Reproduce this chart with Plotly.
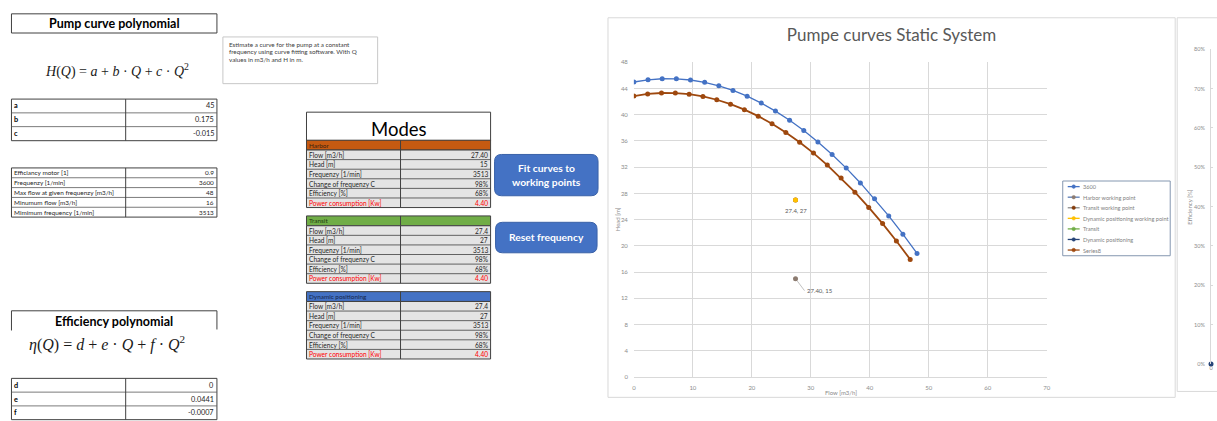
import plotly.graph_objects as go

# ---------------- data ----------------
# pump curve at 3600 1/min
flow_3600 = [0.0, 2.4, 4.8, 7.2, 9.6, 12.0, 14.4, 16.8, 19.2, 21.6, 24.0,
             26.4, 28.8, 31.2, 33.6, 36.0, 38.4, 40.8, 43.2, 45.6, 48.0]
head_3600 = [45.00, 45.33, 45.49, 45.48, 45.30, 44.94, 44.41, 43.71, 42.83, 41.78, 40.56,
             39.17, 37.60, 35.86, 33.95, 31.86, 29.60, 27.17, 24.57, 21.79, 18.84]

# curve at the reduced (minimum) frequency
flow_s8 = [0.0, 2.34, 4.68, 7.03, 9.37, 11.71, 14.05, 16.39, 18.74, 21.08, 23.42,
           25.76, 28.10, 30.45, 32.79, 35.13, 37.47, 39.81, 42.16, 44.50, 46.84]
head_s8 = [42.85, 43.17, 43.32, 43.31, 43.14, 42.79, 42.29, 41.62, 40.78, 39.79, 38.62,
           37.30, 35.80, 34.15, 32.33, 30.34, 28.19, 25.87, 23.40, 20.75, 17.94]

# working points
harbor_flow, harbor_head = 27.40, 15
transit_flow, transit_head = 27.4, 27
dp_flow, dp_head = 27.4, 27

# efficiency curve (second chart)
eff_flow = flow_3600
eff_values = [0.0, 0.1018, 0.1956, 0.2812, 0.3588, 0.4284, 0.4899, 0.5433, 0.5887, 0.6260, 0.6552,
              0.6764, 0.6895, 0.6945, 0.6915, 0.6804, 0.6612, 0.6340, 0.5988, 0.5554, 0.5040]

# spreadsheet content
pump_coef_names = ["a", "b", "c"]
pump_coef_values = ["45", "0.175", "-0.015"]
eff_coef_names = ["d", "e", "f"]
eff_coef_values = ["0", "0.0441", "-0.0007"]
motor_labels = ["Efficiancy motor [1]", "Frequenzy [1/min]", "Max flow at given frequenzy [m3/h]",
                "Minumum flow [m3/h]", "Mimimum frequency [1/min]"]
motor_values = ["0.9", "3600", "48", "16", "3513"]
note_lines = ["Estimate a curve for the pump at a constant",
              "frequency using curve fitting software. With Q",
              "values in m3/h and H in m."]
mode_names = ["Harbor", "Transit", "Dynamic positioning"]
mode_colors = ["#C55A11", "#70AD47", "#4472C4"]
mode_name_colors = ["#3A2010", "#1E3A10", "#14244A"]
mode_row_labels = ["Flow [m3/h]", "Head [m]", "Frequenzy [1/min]", "Change of frequenzy C",
                   "Efficiency [%]", "Power consumption [Kw]"]
mode_values = [["27.40", "15", "3513", "98%", "68%", "4.40"],
               ["27.4", "27", "3513", "98%", "68%", "4.40"],
               ["27.4", "27", "3513", "98%", "68%", "4.40"]]

# legend entries: name, line colour, marker colour
legend_names = ["3600", "Harbor working point", "Transit working point",
                "Dynamic positioning working point", "Transit", "Dynamic positioning", "Series8"]
legend_line_colors = ["#4472C4", "#5A7BB5", "#8C8C8C", "#FFC000", "#70AD47", "#264478", "#9E480E"]
legend_marker_colors = ["#4472C4", "#8C7B70", "#843C0C", "#FFC000", "#70AD47", "#264478", "#9E480E"]

# ---------------- helpers ----------------
W, H = 1217, 421
FONT = "Lato"
SERIF = "Liberation Serif"


def fx(p):
    return p / W


def fy(p):
    return 1 - p / H


shapes = []
annotations = []


def box(x0, y0, x1, y1, fill="rgba(0,0,0,0)", line="#404040", width=1, layer="above"):
    shapes.append(dict(type="rect", xref="paper", yref="paper",
                       x0=fx(x0), x1=fx(x1), y0=fy(y1), y1=fy(y0),
                       fillcolor=fill, line=dict(color=line, width=width), layer=layer))


def seg(x0, y0, x1, y1, color="#404040", width=1):
    shapes.append(dict(type="line", xref="paper", yref="paper",
                       x0=fx(x0), x1=fx(x1), y0=fy(y0), y1=fy(y1),
                       line=dict(color=color, width=width)))


def dot(x, y, r, color):
    shapes.append(dict(type="circle", xref="paper", yref="paper",
                       x0=fx(x - r), x1=fx(x + r), y0=fy(y + r), y1=fy(y - r),
                       fillcolor=color, line=dict(color=color, width=0.5)))


def label(x, y, text, size=6, color="#262626", anchor="left", bold=False, family=FONT, angle=0):
    annotations.append(dict(xref="paper", yref="paper", x=fx(x), y=fy(y),
                            text=f"<b>{text}</b>" if bold else text, showarrow=False,
                            xanchor=anchor, yanchor="middle", textangle=angle, borderpad=0,
                            font=dict(family=family, size=size, color=color)))


def rounded(x0, y0, x1, y1, r, fill, line):
    p = (f"M {fx(x0 + r)},{fy(y0)} L {fx(x1 - r)},{fy(y0)} Q {fx(x1)},{fy(y0)} {fx(x1)},{fy(y0 + r)} "
         f"L {fx(x1)},{fy(y1 - r)} Q {fx(x1)},{fy(y1)} {fx(x1 - r)},{fy(y1)} "
         f"L {fx(x0 + r)},{fy(y1)} Q {fx(x0)},{fy(y1)} {fx(x0)},{fy(y1 - r)} "
         f"L {fx(x0)},{fy(y0 + r)} Q {fx(x0)},{fy(y0)} {fx(x0 + r)},{fy(y0)} Z")
    shapes.append(dict(type="path", xref="paper", yref="paper", path=p,
                       fillcolor=fill, line=dict(color=line, width=1)))


def grid_table(x0, xm, x1, edges, names, values, bold_names, size, fill="white"):
    box(x0, edges[0], x1, edges[-1], fill=fill, line="#404040")
    for e in edges[1:-1]:
        seg(x0, e, x1, e, "#595959", 0.8)
    seg(xm, edges[0], xm, edges[-1], "#404040", 1)
    for i, (n, v) in enumerate(zip(names, values)):
        yc = (edges[i] + edges[i + 1]) / 2
        label(x0 + 2, yc, n, size, "#000000" if bold_names else "#262626", "left", bold_names)
        label(x1 - 2, yc, v, size, "#262626", "right")


# ---------------- spreadsheet area ----------------
box(9.5, 10, 216, 29.5, fill="white")
label(113, 20, "Pump curve polynomial", 12.5, "#000000", "center", bold=True)
label(116, 67.5, "<i>H</i>(<i>Q</i>) = <i>a</i> + <i>b</i> · <i>Q</i> + <i>c</i> · <i>Q</i><sup>2</sup>",
      14, "#1A1A1A", "center", family=SERIF)

box(222, 33.5, 377.5, 81, fill="white", line="#C8C8C8")
for i, t in enumerate(note_lines):
    label(227, 40.7 + 8 * i, t, 6.3, "#404040")

grid_table(9.5, 124.3, 216, [96.7, 110.7, 124.7, 139], pump_coef_names, pump_coef_values, True, 7.3)
grid_table(9.5, 124.3, 216, [166.7 + 10 * i for i in range(6)], motor_labels, motor_values, False, 6.4)

seg(9.5, 312, 216, 312, "#404040", 1)
seg(9.5, 312, 9.5, 332, "#404040", 1)
seg(216, 312, 216, 331, "#404040", 1)
label(113, 323, "Efficiency polynomial", 12.5, "#000000", "center", bold=True)
label(106, 345, "<i>η</i>(<i>Q</i>) = <i>d</i> + <i>e</i> · <i>Q</i> + <i>f</i> · <i>Q</i><sup>2</sup>",
      16, "#1A1A1A", "center", family=SERIF)
grid_table(9.5, 124.3, 216, [380.7, 394.7, 408.7, 422.7], eff_coef_names, eff_coef_values, True, 7.3)

# modes block
box(306, 110, 491, 139, fill="white", line="#404040")
label(399, 127, "Modes", 18.5, "#000000", "center")
mode_tops = [138.5, 215.5, 292.5]
for m, top in enumerate(mode_tops):
    box(306, top, 491, top + 10, fill=mode_colors[m], line="#404040")
    seg(400.5, top, 400.5, top + 10, "#404040", 1)
    label(308, top + 5, mode_names[m], 6.4, mode_name_colors[m])
    edges = [top + 10 + 9.75 * i for i in range(7)]
    box(306, edges[0], 491, edges[-1], fill="#E4E4E4", line="#404040")
    for e in edges[1:-1]:
        seg(306, e, 491, e, "#404040", 0.8)
    seg(400.5, edges[0], 400.5, edges[-1], "#404040", 1)
    for i, (n, v) in enumerate(zip(mode_row_labels, mode_values[m])):
        yc = (edges[i] + edges[i + 1]) / 2
        col = "#FF0000" if i == len(mode_row_labels) - 1 else "#262626"
        label(308, yc, n, 6.6, col)
        label(489.5, yc, v, 6.6, col, "right")

# buttons
rounded(495, 153, 599, 195, 7, "#4472C4", "#3A62A8")
label(547, 167, "Fit curves to", 10.3, "white", "center", bold=True)
label(547, 181, "working points", 10.3, "white", "center", bold=True)
rounded(496, 222, 598, 253, 7, "#4472C4", "#3A62A8")
label(547, 236.5, "Reset frequency", 10.3, "white", "center", bold=True)

# ---------------- chart frames ----------------
box(609, 14, 1179, 400, fill="white", line="#D9D9D9", layer="below")
box(1181, 14, 1240, 394, fill="white", line="#D9D9D9", layer="below")

# axis titles
label(618, 219, "Head [m]", 6, "#8C8C8C", "center", angle=-90)
label(843, 395, "Flow [m3/h]", 6, "#8C8C8C", "center")
label(1193, 207, "Efficiency [%]", 6, "#8C8C8C", "center", angle=-90)

# legend box
box(1066, 180, 1174, 256, fill="white", line="#8497B0")
for i, name in enumerate(legend_names):
    yc = 185.7 + 10.75 * i
    seg(1071, yc, 1083, yc, legend_line_colors[i], 1.3)
    dot(1077, yc, 1.8, legend_marker_colors[i])
    label(1085, yc, name, 5.6, "#7F7F7F")

# ---------------- traces ----------------
fig = go.Figure()
fig.add_trace(go.Scatter(x=flow_3600, y=head_3600, name=legend_names[0], mode="lines+markers",
                         line=dict(color=legend_line_colors[0], width=1.3),
                         marker=dict(size=5, color=legend_marker_colors[0])))
fig.add_trace(go.Scatter(x=[harbor_flow], y=[harbor_head], name=legend_names[1], mode="markers",
                         marker=dict(size=5, color=legend_marker_colors[1])))
fig.add_trace(go.Scatter(x=[transit_flow], y=[transit_head], name=legend_names[2], mode="markers",
                         marker=dict(size=5, color=legend_marker_colors[2])))
fig.add_trace(go.Scatter(x=[dp_flow], y=[dp_head], name=legend_names[3], mode="markers",
                         marker=dict(size=5, color=legend_marker_colors[3])))
fig.add_trace(go.Scatter(x=[], y=[], name=legend_names[4], mode="lines+markers",
                         line=dict(color=legend_line_colors[4])))
fig.add_trace(go.Scatter(x=[], y=[], name=legend_names[5], mode="lines+markers",
                         line=dict(color=legend_line_colors[5])))
fig.add_trace(go.Scatter(x=flow_s8, y=head_s8, name=legend_names[6], mode="lines+markers",
                         line=dict(color=legend_line_colors[6], width=1.8),
                         marker=dict(size=5, color=legend_marker_colors[6])))
fig.add_trace(go.Scatter(x=eff_flow, y=eff_values, name="Efficiency", mode="markers",
                         xaxis="x2", yaxis="y2", cliponaxis=False,
                         marker=dict(size=5, color="#264478")))

# data labels
annotations.append(dict(x=harbor_flow, y=harbor_head, xref="x", yref="y",
                        text=f"{harbor_flow:.2f}, {harbor_head}", showarrow=True,
                        arrowhead=0, arrowwidth=0.7, arrowcolor="#A6A6A6", standoff=3,
                        ax=9, ay=12, xanchor="left", yanchor="middle",
                        font=dict(family=FONT, size=6, color="#595959")))
annotations.append(dict(x=dp_flow, y=dp_head, xref="x", yref="y",
                        text=f"{dp_flow}, {dp_head}", showarrow=False, yshift=-11,
                        xanchor="center", yanchor="middle",
                        font=dict(family=FONT, size=6, color="#595959")))

axis_font = dict(family=FONT, size=6, color="#8C8C8C")
fig.update_layout(
    width=W, height=H, margin=dict(l=0, r=0, t=0, b=0),
    paper_bgcolor="white", plot_bgcolor="rgba(0,0,0,0)",
    showlegend=False,
    title=dict(text="Pumpe curves Static System", x=fx(894), y=fy(32),
               xref="paper", yref="paper", xanchor="center", yanchor="middle",
               font=dict(family=FONT, size=17, color="#595959")),
    xaxis=dict(domain=[fx(635), fx(1050)], range=[0, 70], dtick=10, tick0=0,
               showgrid=True, gridcolor="#D9D9D9", zeroline=False,
               showline=True, linecolor="#D9D9D9", ticks="", tickfont=axis_font,
               ticklabelstandoff=5, anchor="y"),
    yaxis=dict(domain=[1 - 379.3 / H, 1 - 59.3 / H], range=[0, 48], dtick=4, tick0=0,
               showgrid=True, gridcolor="#D9D9D9", zeroline=False, showline=False,
               ticks="", tickfont=axis_font, ticklabelstandoff=5, anchor="x"),
    xaxis2=dict(domain=[fx(1215), 1], range=[0, 0.34], tickvals=[0], showgrid=False,
                zeroline=False, showline=False, ticks="", tickfont=dict(family=FONT, size=5.5, color="#8C8C8C"),
                anchor="y2"),
    yaxis2=dict(domain=[1 - 366 / H, 1 - 46 / H], range=[0, 0.8], dtick=0.1, tickformat=".0%",
                showgrid=True, gridcolor="#D9D9D9", zeroline=False, showline=True,
                linecolor="#D9D9D9", ticks="", tickfont=dict(family=FONT, size=5.5, color="#8C8C8C"),
                ticklabelstandoff=4, anchor="x2"),
    shapes=shapes,
    annotations=annotations,
)

fig.write_html("out.html")
